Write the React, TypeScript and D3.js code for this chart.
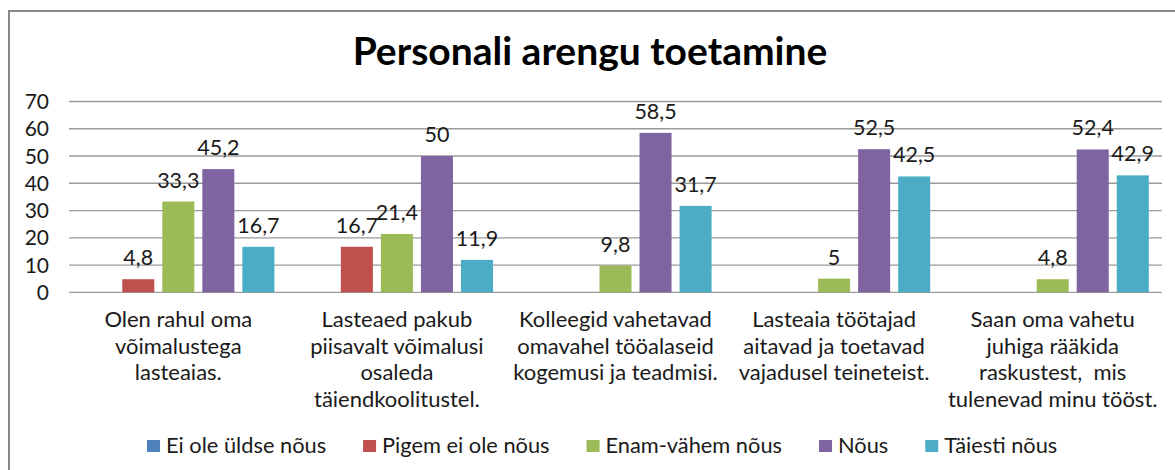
import React, { useEffect, useRef } from "react";
import * as d3 from "d3";

// category labels, already broken into lines as in the chart
const categories = [
  ["Olen rahul oma", "võimalustega", "lasteaias."],
  ["Lasteaed pakub", "piisavalt võimalusi", "osaleda", "täiendkoolitustel."],
  ["Kolleegid vahetavad", "omavahel tööalaseid", "kogemusi ja teadmisi."],
  ["Lasteaia töötajad", "aitavad ja toetavad", "vajadusel teineteist."],
  ["Saan oma vahetu", "juhiga rääkida", "raskustest,  mis", "tulenevad minu tööst."],
];

const seriesNames = [
  "Ei ole üldse nõus",
  "Pigem ei ole nõus",
  "Enam-vähem nõus",
  "Nõus",
  "Täiesti nõus",
];
const seriesColors = ["#4F81BD", "#C0504D", "#9BBB59", "#8064A2", "#4BACC6"];

const eiOleYldseNous = [null, null, null, null, null];
const pigemEiOleNous = [4.8, 16.7, null, null, null];
const enamVahemNous = [33.3, 21.4, 9.8, 5, 4.8];
const nous = [45.2, 50, 58.5, 52.5, 52.4];
const taiestiNous = [16.7, 11.9, 31.7, 42.5, 42.9];

const yTicks = [0, 10, 20, 30, 40, 50, 60, 70];

const title = "Personali arengu toetamine";

const W = 1175;
const H = 470;
const font = "Lato, 'Open Sans', sans-serif";

const BarChart = () => {
  const ref = useRef<SVGSVGElement>(null);

  useEffect(() => {
    const svg = d3.select(ref.current);
    svg.selectAll("*").remove();

    const values = [eiOleYldseNous, pigemEiOleNous, enamVahemNous, nous, taiestiNous];
    const rows = categories.map((c, i) => ({
      cat: i,
      vals: values.map((s, j) => ({ series: j, value: s[i] })),
    }));

    const margin = { left: 69, right: 13, top: 101.5, bottom: 177.7 };
    const x0 = d3
      .scaleBand<number>()
      .domain(categories.map((c, i) => i))
      .range([margin.left, W - margin.right])
      .padding(0);
    const x1 = d3
      .scaleBand<number>()
      .domain(seriesNames.map((s, i) => i))
      .range([0, x0.bandwidth()])
      .paddingInner(0.2)
      .paddingOuter(0.33);
    const y = d3.scaleLinear().domain([0, 70]).range([H - margin.bottom, margin.top]);

    // frame
    svg
      .append("path")
      .attr("d", `M9,${H} V11 H${W}`)
      .attr("fill", "none")
      .attr("stroke", "#878787")
      .attr("stroke-width", 2);

    // title
    svg
      .append("text")
      .attr("x", 590)
      .attr("y", 65)
      .attr("text-anchor", "middle")
      .style("font-family", font)
      .style("font-weight", "bold")
      .style("font-size", "39px")
      .text(title);

    // gridlines
    svg
      .append("g")
      .selectAll("line")
      .data(yTicks)
      .enter()
      .append("line")
      .attr("x1", margin.left)
      .attr("x2", W - margin.right)
      .attr("y1", (d) => y(d))
      .attr("y2", (d) => y(d))
      .attr("stroke", "#9a9a9a")
      .attr("stroke-width", 1.3);

    // y tick labels
    svg
      .append("g")
      .selectAll("text")
      .data(yTicks)
      .enter()
      .append("text")
      .attr("x", 49)
      .attr("y", (d) => y(d))
      .attr("dy", "0.36em")
      .attr("text-anchor", "end")
      .style("font-family", font)
      .style("font-size", "21px")
      .attr("fill", "#1a1a1a")
      .text((d) => d);

    // bars
    const groups = svg
      .append("g")
      .selectAll("g")
      .data(rows)
      .enter()
      .append("g")
      .attr("transform", (d) => `translate(${x0(d.cat)},0)`);

    const present = (d) => d.vals.filter((v) => v.value != null);

    groups
      .selectAll("rect")
      .data(present)
      .enter()
      .append("rect")
      .attr("x", (d) => x1(d.series))
      .attr("y", (d) => y(d.value))
      .attr("width", x1.bandwidth())
      .attr("height", (d) => y(0) - y(d.value))
      .attr("fill", (d) => seriesColors[d.series]);

    groups
      .selectAll("text")
      .data(present)
      .enter()
      .append("text")
      .attr("x", (d) => x1(d.series) + x1.bandwidth() / 2)
      .attr("y", (d) => y(d.value) - 14)
      .attr("text-anchor", "middle")
      .style("font-family", font)
      .style("font-size", "21.5px")
      .attr("fill", "#1a1a1a")
      .text((d) => String(d.value).replace(".", ","));

    // category labels
    const catText = svg
      .append("g")
      .selectAll("text")
      .data(categories)
      .enter()
      .append("text")
      .attr("x", (d, i) => x0(i) + x0.bandwidth() / 2)
      .attr("y", 327)
      .attr("text-anchor", "middle")
      .attr("xml:space", "preserve")
      .style("font-family", font)
      .style("font-size", "22px")
      .attr("fill", "#1a1a1a");
    catText
      .selectAll("tspan")
      .data((d) => d)
      .enter()
      .append("tspan")
      .attr("x", function () {
        return (this.parentNode as SVGTextElement).getAttribute("x");
      })
      .attr("dy", (d, i) => (i === 0 ? 0 : 26.6))
      .text((d) => d);

    // legend
    const legend = svg.append("g");
    let lx = 147;
    seriesNames.forEach((name, i) => {
      legend
        .append("rect")
        .attr("x", lx)
        .attr("y", 440)
        .attr("width", 13)
        .attr("height", 12)
        .attr("fill", seriesColors[i]);
      const t = legend
        .append("text")
        .attr("x", lx + 19)
        .attr("y", 453)
        .style("font-family", font)
        .style("font-size", "21.8px")
        .attr("fill", "#1a1a1a")
        .text(name);
      const w = (t.node() as SVGTextElement).getComputedTextLength();
      lx += 19 + w + 37;
    });
  }, []);

  return (
    <svg
      ref={ref}
      width={W}
      height={H}
      style={{ position: "absolute", left: 0, top: 0, background: "#fff" }}
    ></svg>
  );
};

export default function App() {
  return <BarChart />;
}
